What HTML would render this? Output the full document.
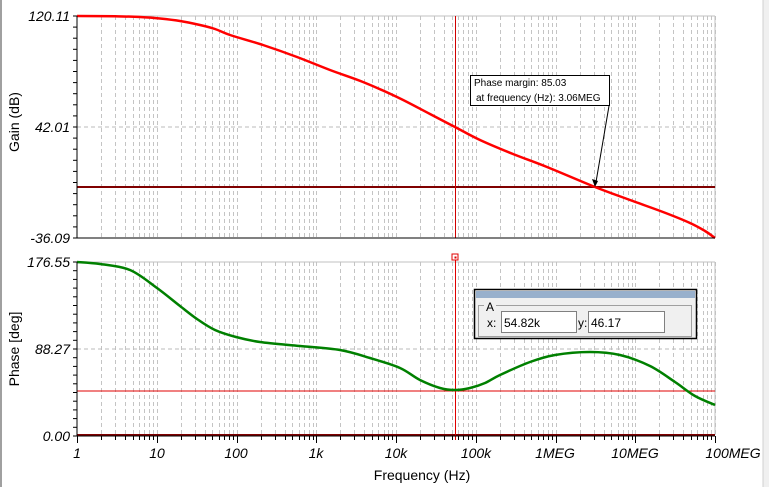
<!DOCTYPE html>
<html><head><meta charset="utf-8"><style>
html,body{margin:0;padding:0;background:#fff;}
svg{display:block;font-family:"Liberation Sans",sans-serif;}
</style></head><body>
<svg id="s" width="769" height="487" xmlns="http://www.w3.org/2000/svg">
<rect x="0" y="0" width="769" height="487" fill="#fff"/>
<rect x="0" y="0" width="2" height="487" fill="#a0a0a0"/>
<rect x="763" y="0" width="6" height="487" fill="#f0f0f0"/>
<line x1="763" y1="0" x2="763" y2="487" stroke="#d0d0d0"/>
<g id="grid"></g>
<line x1="77" y1="16" x2="715" y2="16" stroke="#c0c0c0"/>
<line x1="715" y1="16" x2="715" y2="238" stroke="#c0c0c0"/>
<line x1="77" y1="262" x2="715" y2="262" stroke="#c0c0c0"/>
<line x1="715" y1="262" x2="715" y2="435" stroke="#c0c0c0"/>
<line x1="77" y1="127" x2="715" y2="127" stroke="#bbb" stroke-dasharray="4,3"/>
<line x1="77" y1="349" x2="715" y2="349" stroke="#bbb" stroke-dasharray="4,3"/>
<line x1="77" y1="187" x2="715" y2="187" stroke="#800000" stroke-width="2"/>
<line x1="77" y1="391" x2="715" y2="391" stroke="#e00000" stroke-width="1"/>
<line x1="77" y1="435" x2="715" y2="435" stroke="#800000" stroke-width="2"/>
<line x1="455.5" y1="16" x2="455.5" y2="238" stroke="#d00000"/>
<line x1="455.5" y1="258" x2="455.5" y2="440" stroke="#e00000"/>
<rect x="452" y="254" width="6" height="6" fill="#fff" stroke="#e00000"/>
<rect x="454.5" y="256.5" width="2" height="2" fill="#e00000"/>
<path id="gain" fill="none" stroke="#ff0000" stroke-width="2.5"/>
<path id="phase" fill="none" stroke="#008000" stroke-width="2.5"/>
<line x1="77" y1="16" x2="77" y2="238" stroke="#000"/>
<line x1="77" y1="238" x2="715" y2="238" stroke="#000"/>
<line x1="77" y1="262" x2="77" y2="436" stroke="#000"/>
<line x1="77" y1="436" x2="715" y2="436" stroke="#000"/>
<g id="ticks" stroke="#000"></g>
<g font-style="italic" font-size="14" fill="#000" text-anchor="end">
<text x="70" y="21">120.11</text>
<text x="70" y="132">42.01</text>
<text x="70" y="243">-36.09</text>
<text x="70" y="267">176.55</text>
<text x="70" y="354">88.27</text>
<text x="70" y="441">0.00</text>
</g>
<g font-style="italic" font-size="14" fill="#000" text-anchor="middle">
<text x="77" y="458">1</text><text x="157" y="458">10</text><text x="236" y="458">100</text><text x="316" y="458">1k</text><text x="396" y="458">10k</text><text x="476" y="458">100k</text><text x="555" y="458">1MEG</text><text x="635" y="458">10MEG</text><text x="733" y="458">100MEG</text>
</g>
<text x="422" y="480" font-size="14" text-anchor="middle">Frequency (Hz)</text>
<text transform="translate(19,122) rotate(-90)" font-size="14" text-anchor="middle">Gain (dB)</text>
<text transform="translate(19,349) rotate(-90)" font-size="14" text-anchor="middle">Phase [deg]</text>
<rect x="470.5" y="75.5" width="139" height="30" fill="#fff" stroke="#000"/>
<text x="474" y="86" font-size="10">Phase margin: 85.03</text>
<text x="476" y="101" font-size="10">at frequency (Hz): 3.06MEG</text>
<line x1="609" y1="106" x2="596" y2="182" stroke="#000"/>
<polygon points="592,179 598,181 595,187" fill="#000"/>
<rect x="474.5" y="289.5" width="222" height="49" fill="#f0f0f0" stroke="#000" stroke-width="1.5"/>
<rect x="476" y="291" width="219" height="7" fill="#98b0cc"/>
<rect x="478.5" y="305.5" width="213" height="31" fill="none" stroke="#a0a0a0"/>
<rect x="484" y="300" width="12" height="12" fill="#f0f0f0"/>
<text x="486" y="311" font-size="12" fill="#000">A</text>
<text x="487" y="327" font-size="12">x:</text>
<rect x="501.5" y="311.5" width="75" height="21" fill="#fff" stroke="#808080"/>
<text x="504" y="327" font-size="12">54.82k</text>
<text x="578" y="327" font-size="12">y:</text>
<rect x="588.5" y="311.5" width="76" height="21" fill="#fff" stroke="#808080"/>
<text x="591" y="327" font-size="12">46.17</text>
</svg>
<script>
var ns="http://www.w3.org/2000/svg",g=document.getElementById("grid"),t=document.getElementById("ticks");
function L(p,x1,y1,x2,y2,a){var l=document.createElementNS(ns,"line");l.setAttribute("x1",x1);l.setAttribute("y1",y1);l.setAttribute("x2",x2);l.setAttribute("y2",y2);for(var k in a)l.setAttribute(k,a[k]);p.appendChild(l);}
var d=(715-77)/8;
for(var i=0;i<8;i++)for(var m=1;m<=10;m++){var x=Math.round(77+d*(i+Math.log10(m)))+0.5;
 if(m>1){L(g,x,16,x,238,{stroke:"#c4c4c4","stroke-dasharray":"4,3"});L(g,x,262,x,435,{stroke:"#c4c4c4","stroke-dasharray":"4,3"});}
 L(t,x,436,x,(m==1||m==10)?443:440,{});}
for(var j=0;j<=20;j++){var y=16+j*222/20;L(t,73,y,77,y,{});var y2=262+j*174/20;L(t,73,y2,77,y2,{});}
function cr(p){var s="M"+p[0][0]+","+p[0][1];for(var i=0;i<p.length-1;i++){var a=p[i-1]||p[i],b=p[i],c=p[i+1],e=p[i+2]||c;
s+=" C"+(b[0]+(c[0]-a[0])/6).toFixed(1)+","+(b[1]+(c[1]-a[1])/6).toFixed(1)+" "+(c[0]-(e[0]-b[0])/6).toFixed(1)+","+(c[1]-(e[1]-b[1])/6).toFixed(1)+" "+c[0]+","+c[1];}return s;}
document.getElementById("gain").setAttribute("d",cr([[77,16],[115,16.3],[140,17],[160,18.5],[180,21],[200,25],[215,29],[230,35],[263,45],[297,57],[330,70],[363,82],[397,97],[430,114],[455,127],[480,140],[513,154],[547,167],[595,187],[630,200],[663,212],[690,223],[705,231],[715,238]]));
document.getElementById("phase").setAttribute("d",cr([[77,262],[100,264],[130,270],[157,288],[180,306],[197,319],[215,330],[236,337],[260,342],[300,346],[340,350],[370,358],[400,368],[420,380],[440,388],[455,390],[470,388],[485,383],[500,375],[530,362],[555,355],[590,352],[620,355],[650,366],[675,382],[695,396],[715,405]]));
</script>
</body></html>
